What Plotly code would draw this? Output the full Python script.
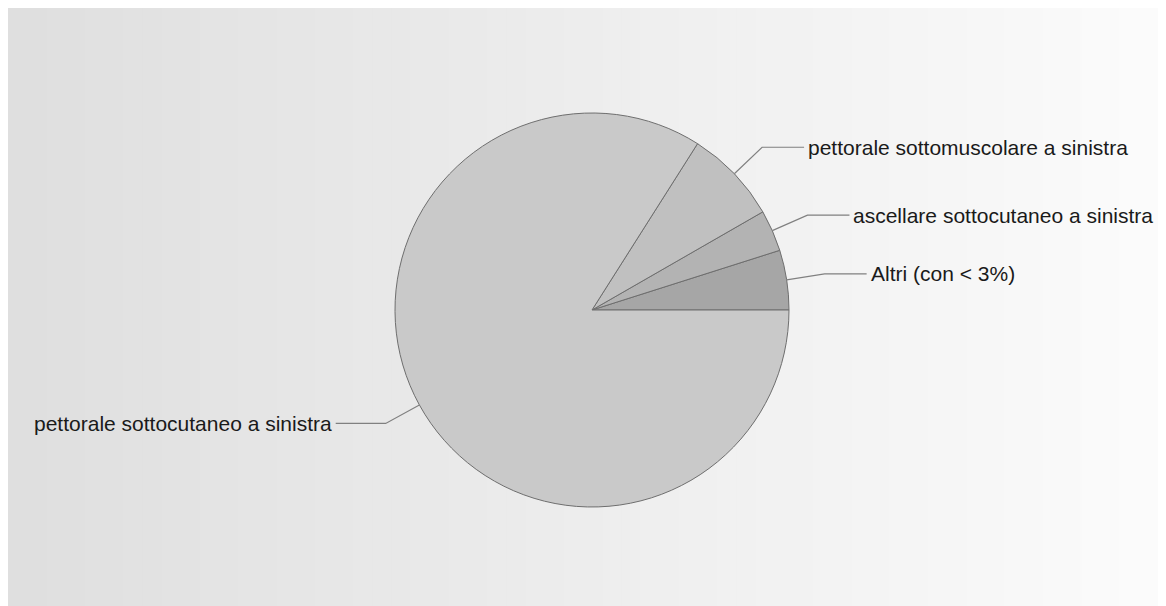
import math
import plotly.graph_objects as go

labels = ["Altri (con < 3%)", "ascellare sottocutaneo a sinistra",
          "pettorale sottomuscolare a sinistra", "pettorale sottocutaneo a sinistra"]
values = [4.9, 3.4, 7.7, 84.0]
colors = ["#a6a6a6", "#b3b3b3", "#c0c0c0", "#c9c9c9"]

W, H = 1150, 598
cx, cy, R = 584, 302, 197  # pixel geometry of the pie inside the figure

total = sum(values)
fig = go.Figure(go.Pie(
    labels=labels, values=values, sort=False, direction="counterclockwise",
    rotation=90 - 360 * values[0] / total, textinfo="none", hoverinfo="label+percent",
    marker=dict(colors=colors, line=dict(color="#6e6e6e", width=1)),
    domain=dict(x=[(cx - R) / W, (cx + R) / W], y=[(H - cy - R) / H, (H - cy + R) / H]),
    showlegend=False,
))

shapes = []
# background gradient
n = 60
c0, c1 = 223, 251
for i in range(n):
    c = round(c0 + (c1 - c0) * i / (n - 1))
    shapes.append(dict(type="rect", xref="paper", yref="paper", layer="below",
                       x0=i / n, x1=(i + 1) / n + 1 / W, y0=0, y1=1, line=dict(width=0),
                       fillcolor=f"rgb({c},{c},{c})"))

annotations = []
cum = 0
for lab, v in zip(labels, values):
    mid = (cum + v / 2) / total * 2 * math.pi
    cum += v
    ex, ey = cx + R * math.cos(mid), cy - R * math.sin(mid)
    r2 = R * 1.195
    bx, by = cx + r2 * math.cos(mid), cy - r2 * math.sin(mid)
    side = 1 if math.cos(mid) >= 0 else -1
    hx = bx + side * (42 if side > 0 else 50)
    pts = [(ex, ey), (bx, by), (hx, by)]
    path = "M " + " L ".join(f"{px / W},{1 - py / H}" for px, py in pts)
    shapes.append(dict(type="path", xref="paper", yref="paper", path=path,
                       line=dict(color="#808080", width=1.2)))
    annotations.append(dict(x=(hx + side * 2) / W, y=1 - by / H, xref="paper", yref="paper",
                            text=lab, showarrow=False,
                            xanchor="left" if side > 0 else "right", yanchor="middle",
                            font=dict(family="Liberation Sans, Arial", size=21, color="#1a1a1a")))

fig.update_layout(width=W, height=H, margin=dict(l=0, r=0, t=0, b=0),
                  paper_bgcolor="white", plot_bgcolor="white",
                  shapes=shapes, annotations=annotations)
fig.write_html("out.html")
